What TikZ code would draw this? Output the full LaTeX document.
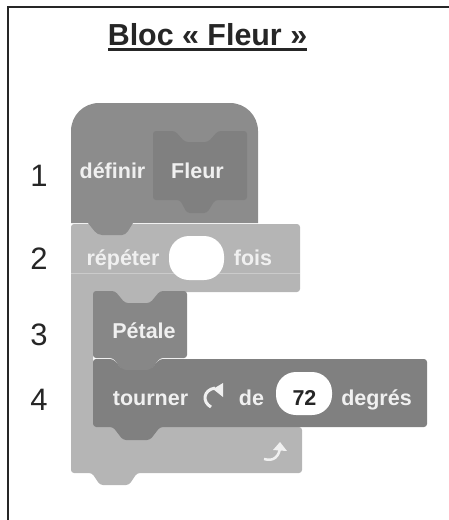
\documentclass[tikz,border=0pt]{standalone}
\usepackage{fontspec}
\setmainfont{Liberation Sans}
\tikzset{
 hatblock/.style={fill=hatgray,draw=none},
 innerblock/.style={fill=innergray,draw=none},
 loopblock/.style={fill=loopgray,draw=none},
 motionblock/.style={fill=motiongray,draw=none},
 petalblock/.style={fill=petalgray,draw=none},
 blocktext/.style={text=white!94!black,font=\fontsize{21.5}{24}\selectfont\bfseries,inner sep=0pt,anchor=base},
 numlabel/.style={font=\fontsize{31}{33}\selectfont,inner sep=0pt,anchor=base,text=black!85},
 pill/.style={fill=white,draw=none,rounded corners=20pt},
 iconline/.style={draw=white!94!black,line width=3pt},
}
\definecolor{hatgray}{gray}{0.55}
\definecolor{innergray}{gray}{0.50}
\definecolor{loopgray}{gray}{0.71}
\definecolor{motiongray}{gray}{0.50}
\definecolor{petalgray}{gray}{0.53}
\begin{document}
\begin{tikzpicture}[x=1pt,y=-1pt]
\useasboundingbox (0,0) rectangle (449,520);
\draw[line width=2pt,black!85] (7.5,520) -- (7.5,6.5) -- (449,6.5);
% loop block
\path[loopblock,rounded corners=3pt]
 (71,224) -- (300,224) -- (300,292) -- (160,292) -- (150,304) -- (125,304) -- (115,292) -- (93,292)
 -- (93,427) -- (302,427) -- (302,473) -- (137,473) -- (129,485) -- (100,485) -- (92,473) -- (71,473) -- cycle;
\draw[loopgray!70!white,line width=1pt] (71,273) -- (300,273);
% hat block
\path[hatblock]
 (71,223) -- (71,131) .. controls (71,115.5) and (83.5,103) .. (99,103) -- (230,103)
 .. controls (245.5,103) and (258,115.5) .. (258,131) -- (258,223) -- (133,223)
 .. controls (129,229) and (127,235) .. (122,235) -- (102,235) .. controls (96,235) and (93,229) .. (88,223) -- cycle;
% Fleur inner
\path[innerblock,rounded corners=3pt]
 (153,131) -- (175,131) -- (185,142) -- (208,142) -- (218,131) -- (247,131) -- (247,200)
 -- (215,200) -- (207,213) -- (187,213) -- (180,200) -- (153,200) -- cycle;
% Petale
\path[petalblock,rounded corners=3pt]
 (93,291) -- (115,291) -- (125,303) -- (150,303) -- (160,291) -- (187,291) -- (187,358)
 -- (160,358) -- (150,371) -- (123,371) -- (113,358) -- (93,358) -- cycle;
% tourner
\path[motionblock,rounded corners=3pt]
 (93,359) -- (113,359) -- (123,370) -- (150,370) -- (160,359) -- (427,359) -- (427,427)
 -- (160,427) -- (150,440) -- (123,440) -- (113,427) -- (93,427) -- cycle;
% pills
\path[pill] (169,236) rectangle (224,280);
\path[pill] (276,372) rectangle (332,415);
% texts
\node[font=\fontsize{30.4}{33}\selectfont\bfseries,inner sep=0pt,anchor=base,text=black!85] (title) at (207.5,45) {Bloc « Fleur »};
\draw[line width=3pt,black!85] (108,49.5) -- (307,49.5);
\node[numlabel] (n1) at (39,186) {1};
\node[numlabel] (n2) at (39,269) {2};
\node[numlabel] (n3) at (39,345) {3};
\node[numlabel] (n4) at (39,410) {4};
\node[blocktext] (def) at (112.5,178) {définir};
\node[blocktext] (fleur) at (197.5,178) {Fleur};
\node[blocktext] (rep) at (123,265.5) {répéter};
\node[blocktext] (fois) at (253,265.5) {fois};
\node[blocktext] (pet) at (144,338) {Pétale};
\node[blocktext] (tour) at (150.5,405) {tourner};
\node[blocktext] (de) at (251.5,405) {de};
\node[blocktext,text=black!85] (val) at (304.5,405) {72};
\node[blocktext] (deg) at (376.5,405) {degrés};
% turn icon
\draw[iconline] (211,407) .. controls (202,402) and (203,390) .. (215,388);
\fill[white!94!black] (213,389) -- (223,383) -- (223,397) -- cycle;
% loop arrow
\draw[iconline,line width=2.5pt] (264,459) .. controls (274,462) and (279,456) .. (280,448);
\fill[white!94!black] (280,442) -- (287,451) -- (273,450) -- cycle;
\end{tikzpicture}
\end{document}
